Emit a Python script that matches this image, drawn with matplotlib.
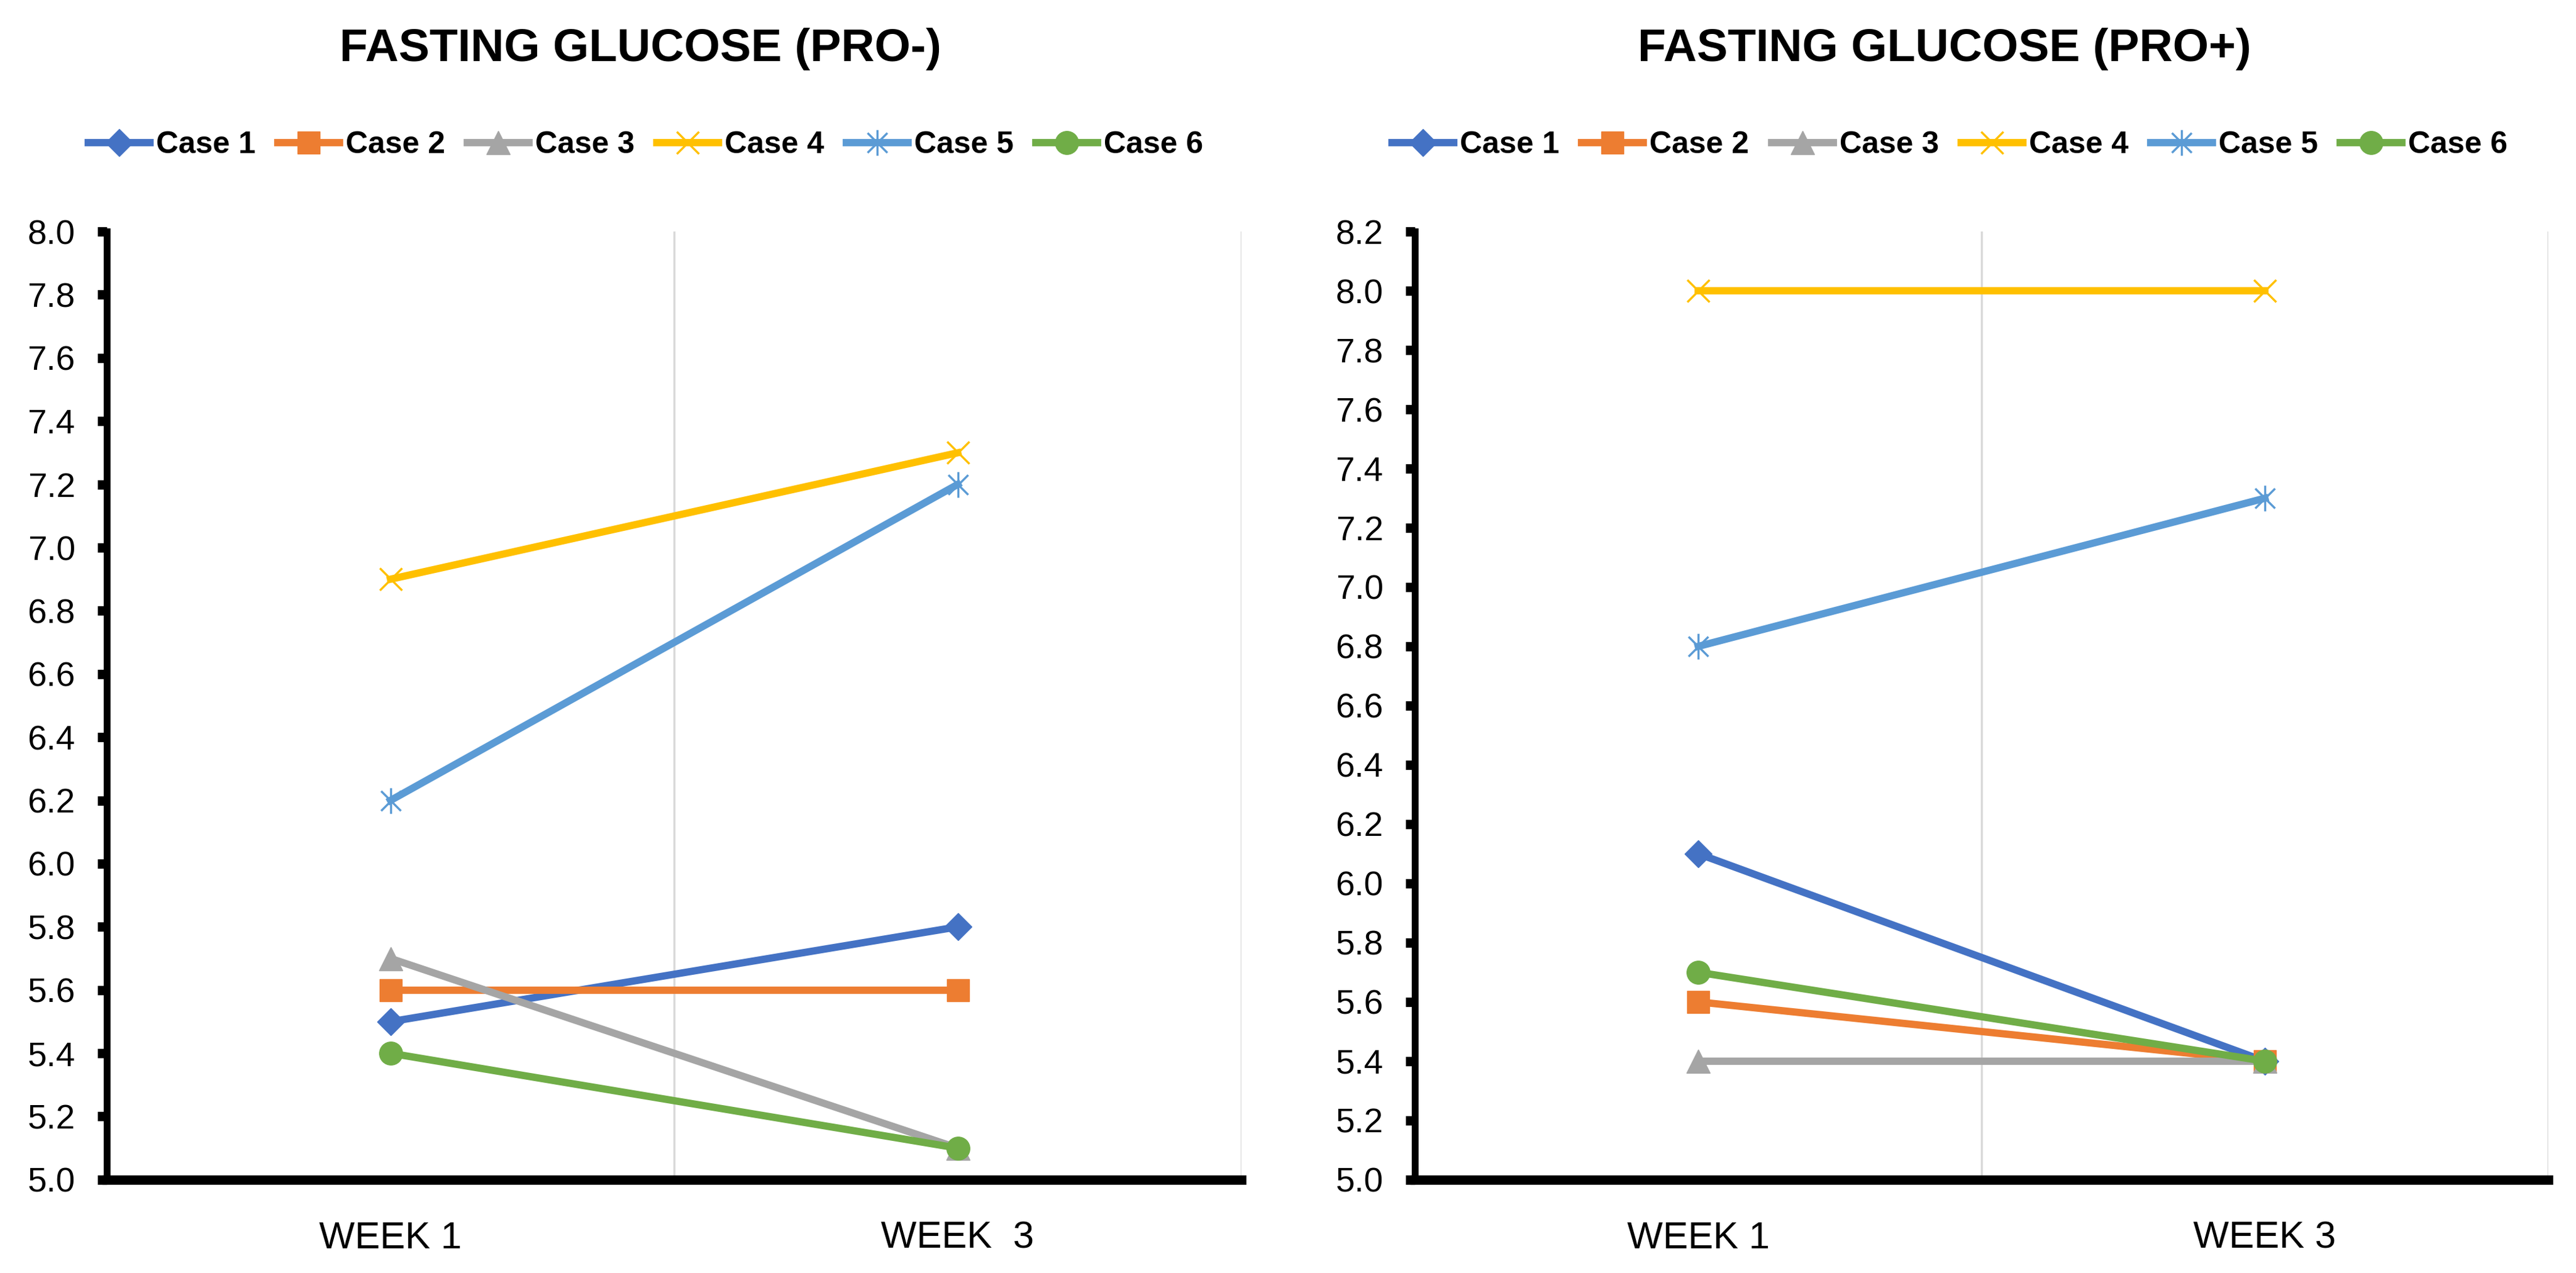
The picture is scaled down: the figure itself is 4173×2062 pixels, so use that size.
import numpy as np
import matplotlib
matplotlib.use("Agg")
import matplotlib.pyplot as plt
from matplotlib.path import Path

plt.rcParams['font.family'] = ['DejaVu Sans Condensed', 'Liberation Sans', 'DejaVu Sans']

# data
cases = ['Case 1', 'Case 2', 'Case 3', 'Case 4', 'Case 5', 'Case 6']
weeks_minus = ['WEEK 1', 'WEEK  3']
weeks_plus = ['WEEK 1', 'WEEK 3']
pro_minus_w1 = [5.5, 5.6, 5.7, 6.9, 6.2, 5.4]
pro_minus_w3 = [5.8, 5.6, 5.1, 7.3, 7.2, 5.1]
pro_plus_w1 = [6.1, 5.6, 5.4, 8.0, 6.8, 5.7]
pro_plus_w3 = [5.4, 5.4, 5.4, 8.0, 7.3, 5.4]

colors = ['#4472C4', '#ED7D31', '#A5A5A5', '#FFC000', '#5B9BD5', '#70AD47']

# excel style "star" marker: an x with a vertical bar
star = Path([(-1, -1), (1, 1), (-1, 1), (1, -1), (0, -1.3), (0, 1.3)],
            [Path.MOVETO, Path.LINETO] * 3)
markers = ['D', 's', '^', 'x', star, 'o']
msizes = [22, 26, 28, 26, 30, 27]

fig = plt.figure(figsize=(41.73, 20.62), dpi=100)
fig.patch.set_facecolor('white')

ax1 = fig.add_axes([0.0415, 0.0733, 0.4404, 0.7448])
ax2 = fig.add_axes([0.5493, 0.0733, 0.4399, 0.7448])


def draw(ax, w1, w3, labels, ymax, title, cx):
    x = np.arange(len(labels))
    handles = []
    for i in range(len(cases)):
        mk = markers[i]
        line_marker = mk in ('x',) or mk is star
        h, = ax.plot(x, [w1[i], w3[i]], color=colors[i], lw=8.5,
                     marker=mk, ms=msizes[i],
                     mew=2.5 if line_marker else 1,
                     mfc=colors[i], mec=colors[i],
                     label=cases[i], clip_on=False, zorder=3 + i)
        handles.append(h)
    ax.set_xlim(-0.5, 1.5)
    ax.set_ylim(5.0, ymax)
    ax.set_xticks(x)
    ax.set_xticklabels(labels)
    ax.set_yticks(np.arange(5.0, ymax + 0.01, 0.2))
    ax.yaxis.set_major_formatter(plt.FormatStrFormatter('%.1f'))
    ax.set_xticks([0.5, 1.5], minor=True)
    ax.grid(which='minor', axis='x', color='#D9D9D9', lw=2.5, zorder=0)
    ax.tick_params(axis='x', which='both', length=0, pad=48, labelsize=44)
    ax.tick_params(axis='y', length=11, width=11, pad=26, labelsize=40,
                   direction='out')
    for s in ['top', 'right']:
        ax.spines[s].set_visible(False)
    ax.spines['left'].set_linewidth(8)
    ax.spines['bottom'].set_linewidth(11)
    ax.spines['bottom'].set_zorder(20)

    fig.text(cx, 0.952, title, ha='center', va='baseline',
             fontsize=54, fontweight='bold')
    ax.legend(handles=handles, loc='center',
              bbox_to_anchor=(cx + 0.002, 0.886),
              bbox_transform=fig.transFigure, ncol=6, frameon=False,
              handlelength=2.0, handletextpad=0.2, columnspacing=0.72,
              prop={'size': 36, 'weight': 'bold'})


draw(ax1, pro_minus_w1, pro_minus_w3, weeks_minus, 8.0,
     'FASTING GLUCOSE (PRO-)', 0.2487)
draw(ax2, pro_plus_w1, pro_plus_w3, weeks_plus, 8.2,
     'FASTING GLUCOSE (PRO+)', 0.7549)

fig.savefig('out.png', dpi=100, facecolor='white')
